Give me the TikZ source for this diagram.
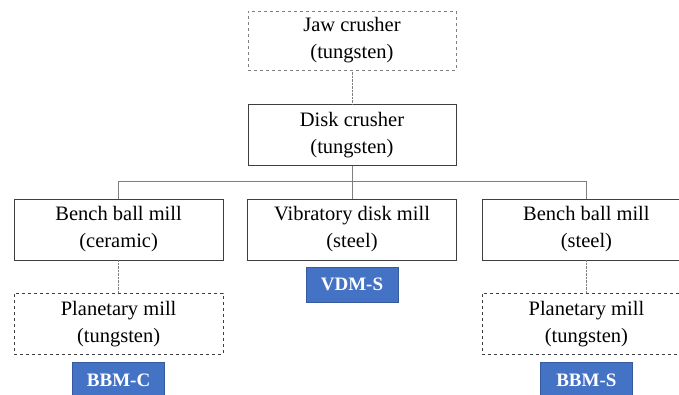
\documentclass[tikz,border=0pt]{standalone}
\usepackage{fontspec}
\setmainfont{Liberation Serif}
\usetikzlibrary{positioning}
\definecolor{MillLine}{HTML}{3F3F3F}
\definecolor{MillDash}{HTML}{7F7F7F}
\definecolor{TagBlue}{HTML}{4472C4}

\begin{document}
\begin{tikzpicture}[node distance=33pt and 24pt,
  mill/.style={draw=MillLine, fill=white, minimum width=209pt, minimum height=61pt,
    align=center, font=\fontsize{20.5}{27}\selectfont},
  optional/.style={mill, draw=MillDash, dashed},
  optional2/.style={mill, dashed},
  tag/.style={fill=TagBlue, draw=TagBlue!80!black, text=white, minimum width=92pt,
    minimum height=35pt, font=\fontsize{19}{22}\selectfont\bfseries},
  link/.style={draw=MillDash, thin}]
  \clip (0,0) rectangle (679pt,-394pt);
  \node[optional, minimum width=208pt, minimum height=59pt] (jaw) at (352pt,-40.5pt) {Jaw crusher\\(tungsten)};
  \node[mill, minimum width=208pt, below=34pt of jaw] (disk) {Disk crusher\\(tungsten)};
  \node[mill, below=33pt of disk] (vdm) {Vibratory disk mill\\(steel)};
  \node[mill, left=of vdm] (bbmc) {Bench ball mill\\(ceramic)};
  \node[mill, right=25pt of vdm] (bbms) {Bench ball mill\\(steel)};
  \node[optional2, below=of bbmc] (pmc) {Planetary mill\\(tungsten)};
  \node[optional2, below=of bbms] (pms) {Planetary mill\\(tungsten)};
  \node[tag, below=7pt of vdm] (tvdm) {VDM-S};
  \node[tag, below=8pt of pmc] (tbbmc) {BBM-C};
  \node[tag, below=8pt of pms] (tbbms) {BBM-S};
  \draw[link, densely dotted] (jaw) -- (disk);
  \draw[link] (disk.south) -- ++(0,-16pt) coordinate (split);
  \draw[link] (bbmc.north) |- (split) -| (bbms.north);
  \draw[link] (split) -- (vdm);
  \draw[link, densely dotted] (bbmc) -- (pmc);
  \draw[link, densely dotted] (bbms) -- (pms);
\end{tikzpicture}
\end{document}
